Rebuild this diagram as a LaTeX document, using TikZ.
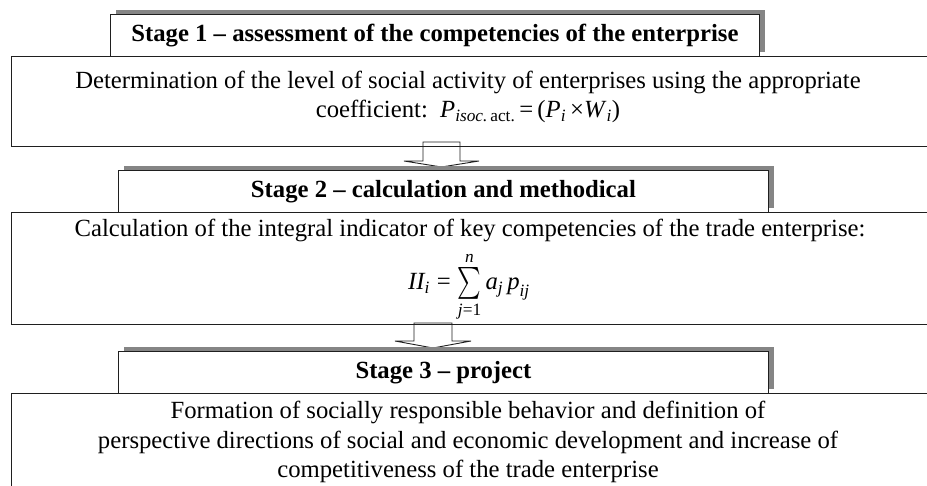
\documentclass[tikz,border=0pt]{standalone}
\usepackage{amsmath}
\usepackage{graphicx}
\usepackage{fontspec}
\setmainfont{Liberation Serif}
\usetikzlibrary{calc}

\newcommand\bodysize{\fontsize{24.7}{29}\selectfont}
\newcommand\itx[1]{\text{\itshape #1}}
\newcommand\tallsum{\mathop{\vcenter{\hbox{\scalebox{0.9}[1.28]{$\textstyle\sum$}}}}\limits}

\tikzset{
  frame/.style={draw=black!88, line width=0.9pt},
  panel/.style={frame, inner sep=0pt, anchor=north west},
  hdr/.style={frame, fill=white, inner sep=0pt, anchor=north west,
              minimum height=42pt, font=\bodysize\bfseries},
  hshadow/.style={fill=black!48, draw=none},
  blockarrow/.style={draw=black!88, line width=0.9pt, fill=white, line join=miter},
  txt/.style={inner sep=0pt, anchor=base, font=\bodysize},
}

\begin{document}
\begin{tikzpicture}[x=1pt, y=-1pt]
\useasboundingbox (0,0) rectangle (927,486);
\clip (0,0) rectangle (927,486);

% block arrows between the stages (drawn first, panels sit on top)
\coordinate (a1) at (441.5,142);
\draw[blockarrow] (a1) ++(-18.5,0) -- ++(0,19) -- ++(-19,0) -- ++(37.5,6)
  -- ++(37.5,-6) -- ++(-19,0) -- ++(0,-19) -- cycle;
\coordinate (a2) at (433,323);
\draw[blockarrow] (a2) ++(-19,0) -- ++(0,18) -- ++(-19,0) -- ++(38,7)
  -- ++(38,-7) -- ++(-19,0) -- ++(0,-18) -- cycle;

% content panels (open to the right)
\node[panel, minimum width=925pt, minimum height=90pt]  (p1) at (11,56)  {};
\node[panel, minimum width=925pt, minimum height=112pt] (p2) at (11,212) {};
\node[panel, minimum width=925pt, minimum height=100pt] (p3) at (11,393) {};

% stage headers with their offset shadows
\fill[hshadow] (116,10) rectangle (765,52);
\node[hdr, minimum width=649pt] (h1) at (110,14)
  {Stage 1 -- assessment of the competencies of the enterprise};
\fill[hshadow] (124,166) rectangle (774,208);
\node[hdr, minimum width=650pt] (h2) at (118,170)
  {Stage 2 -- calculation and methodical};
\fill[hshadow] (124,347) rectangle (774,389);
\node[hdr, minimum width=650pt] (h3) at (118,351)
  {Stage 3 -- project};

% stage 1 content
\node[txt] (t1a) at (468,88.5)
  {Determination of the level of social activity of enterprises using the appropriate};
\node[txt] (t1b) at (468,118)
  {coefficient:\ \ \textit{P}\textsubscript{\textit{isoc.}\,act.}\,=\,(\textit{P}\textsubscript{\textit{i}}\,×\textit{W}\textsubscript{\textit{i}})};

% stage 2 content
\node[txt] (t2a) at (470,237)
  {Calculation of the integral indicator of key competencies of the trade enterprise:};
\node[txt] (t2b) at (469,290)
  {$\itx{II}_{\itx{i}} \mathrel{\text{=}} \tallsum_{\itx{j}\text{=1}}^{\itx{n}} \itx{a}_{\itx{j}}\,\itx{p}_{\itx{ij}}$};

% stage 3 content
\node[txt] (t3a) at (468,418)
  {Formation of socially responsible behavior and definition of};
\node[txt] (t3b) at (468,448)
  {perspective directions of social and economic development and increase of};
\node[txt] (t3c) at (468,477)
  {competitiveness of the trade enterprise};
\end{tikzpicture}
\end{document}
